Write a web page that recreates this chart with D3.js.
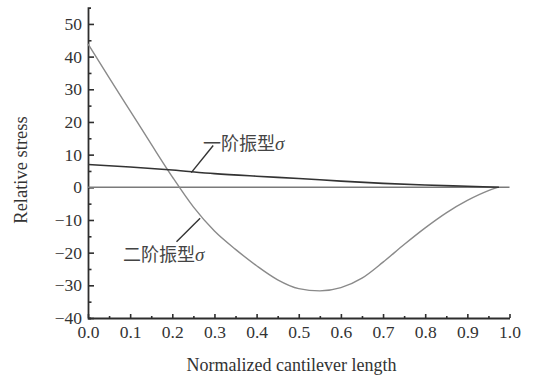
<!DOCTYPE html>
<html>
<head>
<meta charset="utf-8">
<script src="https://cdn.jsdelivr.net/npm/d3@7"></script>
<style>
  html, body { margin: 0; padding: 0; background: #fff; }
  svg { display: block; }
</style>
</head>
<body>
<svg id="chart" width="536" height="375"></svg>
<script>
// Normalized position along the cantilever and relative stress of each mode
const mode1X = [0, 0.1, 0.2, 0.3, 0.4, 0.5, 0.6, 0.7, 0.8, 0.9, 0.975];
const mode1Y = [7.0, 6.2, 5.3, 4.2, 3.4, 2.7, 1.9, 1.2, 0.7, 0.3, 0.0];

const mode2X = [0, 0.05, 0.1, 0.15, 0.2, 0.25, 0.3, 0.35, 0.4, 0.45, 0.5, 0.55, 0.6, 0.65, 0.7, 0.75, 0.8, 0.85, 0.9, 0.95, 0.972];
const mode2Y = [43.9, 33.6, 23.4, 13.2, 3.2, -6.0, -13.4, -19.0, -24.0, -28.3, -31.0, -31.7, -30.7, -27.8, -22.9, -17.5, -12.4, -7.8, -4.0, -1.0, 0.0];

const zeroX = [0, 1];
const zeroY = [0, 0];

const xMajorTicks = [0, 0.1, 0.2, 0.3, 0.4, 0.5, 0.6, 0.7, 0.8, 0.9, 1.0];
const xMinorTicks = [0.05, 0.15, 0.25, 0.35, 0.45, 0.55, 0.65, 0.75, 0.85, 0.95];
const yMajorTicks = [-40, -30, -20, -10, 0, 10, 20, 30, 40, 50];
const yMinorTicks = [-35, -25, -15, -5, 5, 15, 25, 35, 45];

const mode1Label = "一阶振型";
const mode2Label = "二阶振型";
const sigma = "σ";
const xTitle = "Normalized cantilever length";
const yTitle = "Relative stress";

const serif = "'Liberation Serif', 'Times New Roman', serif";
const svg = d3.select("#chart");
const plotLeft = 88, plotRight = 509.5, plotTop = 7.6, plotBottom = 318;

const x = d3.scaleLinear().domain([0, 1]).range([plotLeft, plotRight]);
const y = d3.scaleLinear().domain([-40, 55]).range([plotBottom, plotTop]);

const axisColor = "#2e2e2e";

// y axis: inward ticks, long at tens, short at fives
svg.append("g").attr("transform", `translate(${plotLeft},0)`)
  .call(d3.axisLeft(y).tickValues(yMajorTicks).tickSizeInner(-6).tickSizeOuter(-3).tickPadding(6).tickFormat(d3.format("d")));
svg.append("g").attr("transform", `translate(${plotLeft},0)`)
  .call(d3.axisLeft(y).tickValues(yMinorTicks).tickSizeInner(-3.5).tickSizeOuter(0).tickFormat(""))
  .select(".domain").remove();

// x axis: inward ticks
svg.append("g").attr("transform", `translate(0,${plotBottom})`)
  .call(d3.axisBottom(x).tickValues(xMajorTicks).tickSizeInner(-4).tickSizeOuter(0).tickPadding(8).tickFormat(d3.format(".1f")));
svg.append("g").attr("transform", `translate(0,${plotBottom})`)
  .call(d3.axisBottom(x).tickValues(xMinorTicks).tickSizeInner(-2).tickSizeOuter(0).tickFormat(""))
  .select(".domain").remove();

svg.selectAll(".domain").attr("stroke", axisColor).attr("stroke-width", 1.8);
svg.selectAll(".tick line").attr("stroke", axisColor).attr("stroke-width", 1.6);
svg.selectAll(".tick text")
  .attr("font-family", serif).attr("font-size", 17.5).attr("fill", "#333");

// Axis titles
svg.append("text")
  .attr("x", 291.5).attr("y", 370.5)
  .attr("text-anchor", "middle")
  .attr("font-family", serif)
  .attr("font-size", 18).attr("fill", "#333")
  .text(xTitle);
svg.append("text")
  .attr("transform", "translate(27,170) rotate(-90)")
  .attr("text-anchor", "middle")
  .attr("font-family", serif)
  .attr("font-size", 18.5).attr("fill", "#333")
  .text(yTitle);

const line = d3.line().x(d => x(d[0])).y(d => y(d[1])).curve(d3.curveMonotoneX);

// Zero reference line
svg.append("path")
  .datum(d3.zip(zeroX, zeroY))
  .attr("d", line)
  .attr("fill", "none").attr("stroke", "#7a7a7a").attr("stroke-width", 1.4);

// Second mode
svg.append("path")
  .datum(d3.zip(mode2X, mode2Y))
  .attr("d", line)
  .attr("fill", "none").attr("stroke", "#8a8a8a").attr("stroke-width", 1.4);

// First mode
svg.append("path")
  .datum(d3.zip(mode1X, mode1Y))
  .attr("d", line)
  .attr("fill", "none").attr("stroke", "#333").attr("stroke-width", 1.6);

// Curve labels with leader lines
function curveLabel(text, lx, ly, from, to) {
  svg.append("line")
    .attr("x1", x(from[0])).attr("y1", y(from[1]))
    .attr("x2", x(to[0])).attr("y2", y(to[1]))
    .attr("stroke", "#333").attr("stroke-width", 1.4);
  const t = svg.append("text")
    .attr("x", x(lx)).attr("y", y(ly))
    .attr("font-family", "'Noto Sans CJK SC', sans-serif")
    .attr("font-size", 18).attr("fill", "#444");
  t.append("tspan").text(text);
  t.append("tspan")
    .attr("font-family", serif)
    .attr("font-style", "italic").attr("font-size", 19)
    .text(sigma);
}

curveLabel(mode1Label, 0.273, 11.4, [0.297, 12.8], [0.245, 4.5]);
curveLabel(mode2Label, 0.083, -22.6, [0.210, -16.7], [0.266, -9.5]);
</script>
</body>
</html>
